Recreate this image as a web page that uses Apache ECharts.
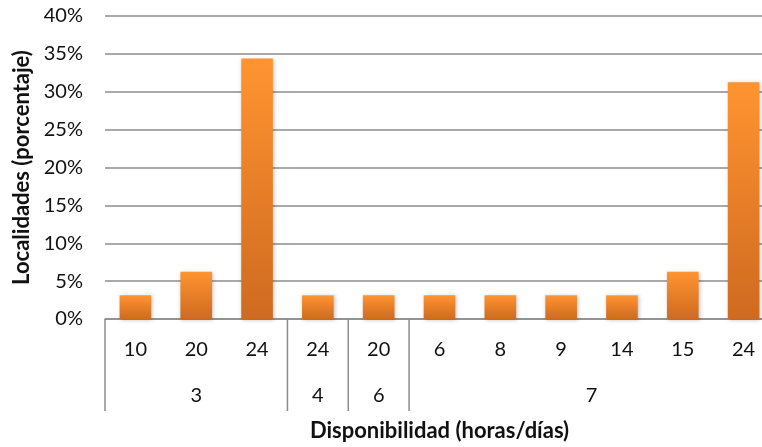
<!DOCTYPE html>
<html><head><meta charset="utf-8">
<script src="https://cdn.jsdelivr.net/npm/echarts@6/dist/echarts.min.js"></script>
<style>html,body{margin:0;padding:0;background:#fff}#c{width:762px;height:447px}</style>
</head><body><div id="c"></div>
<script>
const categories = ['10','20','24','24','20','6','8','9','14','15','24'];
const values = [3.125, 6.25, 34.375, 3.125, 3.125, 3.125, 3.125, 3.125, 3.125, 6.25, 31.25];
const groupLabels = ['3','4','6','7'];
const groupStart = [0, 3, 4, 5];
const groupEnd = [2, 3, 4, 10];
const yTicks = [0, 5, 10, 15, 20, 25, 30, 35, 40];

const FONT = 'Lato';
const chart = echarts.init(document.getElementById('c'));
const groupData = groupLabels.map((g, i) => [groupStart[i], groupEnd[i], g]);

chart.setOption({
  animation: false,
  backgroundColor: '#fff',
  grid: { left: 105, top: 16, width: 669, height: 303, containLabel: false, outerBoundsMode: 'none' },
  xAxis: {
    type: 'category',
    data: categories,
    axisLine: { lineStyle: { color: '#8c8c8c', width: 1.5 } },
    axisTick: { show: false },
    axisLabel: { interval: 0, fontFamily: FONT, fontSize: 20, color: '#111', margin: 21 },
    name: 'Disponibilidad (horas/días)',
    nameLocation: 'middle',
    nameGap: 101,
    nameTextStyle: { fontFamily: FONT, fontSize: 22, fontWeight: 'bold', color: '#111' }
  },
  yAxis: {
    type: 'value',
    min: yTicks[0], max: yTicks[yTicks.length - 1], interval: 5,
    axisLine: { show: false },
    axisTick: { show: false },
    axisLabel: { formatter: '{value}%', fontFamily: FONT, fontSize: 20, color: '#111', margin: 22 },
    splitLine: { lineStyle: { color: '#8c8c8c', width: 1.5 } },
    name: 'Localidades (porcentaje)',
    nameLocation: 'middle',
    nameGap: 72,
    nameTextStyle: { fontFamily: FONT, fontSize: 22, fontWeight: 'bold', color: '#111' }
  },
  series: [
    {
      type: 'bar',
      data: values,
      barWidth: '52%',
      itemStyle: {
        color: new echarts.graphic.LinearGradient(0, 0, 0, 1, [
          { offset: 0, color: '#ff9430' },
          { offset: 1, color: '#cf6a20' }
        ]),
        shadowColor: 'rgba(0,0,0,0.25)', shadowBlur: 4, shadowOffsetX: 1, shadowOffsetY: 1
      }
    },
    {
      type: 'custom',
      data: groupData,
      clip: false,
      silent: true,
      encode: { x: 0 },
      renderItem: function (params, api) {
        const s = api.value(0), e = api.value(1);
        const label = groupLabels[params.dataIndex];
        const p0 = api.coord([s, 0]);
        const p1 = api.coord([e, 0]);
        const bw = api.size([1, 0])[0];
        const left = p0[0] - bw / 2;
        const right = p1[0] + bw / 2;
        const y0 = p0[1];
        return {
          type: 'group',
          children: [
            { type: 'line', shape: { x1: left, y1: y0, x2: left, y2: y0 + 92 },
              style: { stroke: '#8c8c8c', lineWidth: 1.5 } },
            { type: 'text', x: (left + right) / 2, y: y0 + 77,
              style: { text: label, fontFamily: FONT, fontSize: 20, fill: '#111',
                       align: 'center', verticalAlign: 'middle' } }
          ]
        };
      }
    }
  ]
});
</script></body></html>
